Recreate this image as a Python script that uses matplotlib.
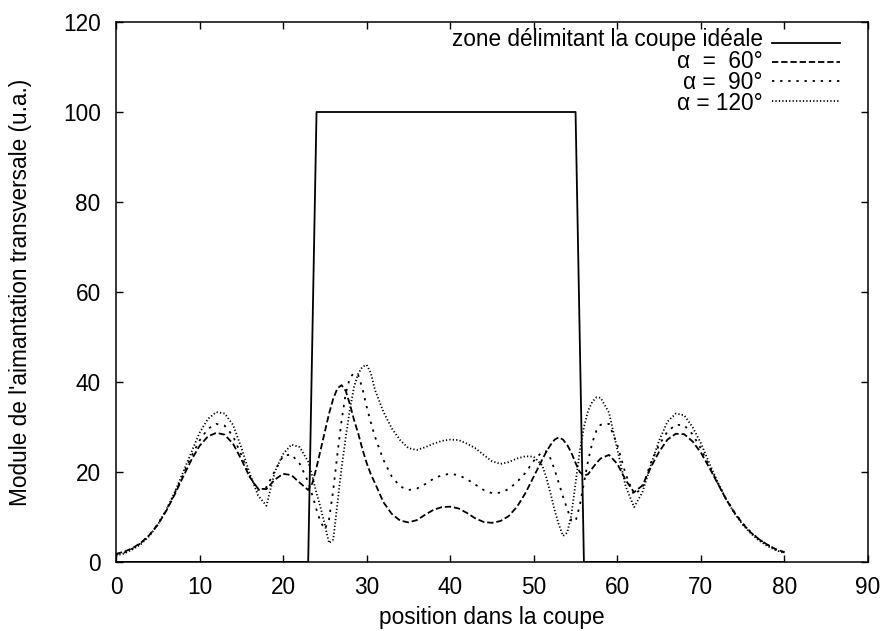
import matplotlib
matplotlib.use("Agg")
import matplotlib.pyplot as plt

plt.rcParams['font.family'] = ['Liberation Sans', 'DejaVu Sans']

# positions dans la coupe (shared by the three angles)
position = [0, 1, 2, 3, 4, 5, 6, 7, 8, 9, 10, 11, 12, 13, 14, 15, 16, 17, 18, 19, 20, 21, 22,
            23, 23.5, 24, 24.5, 25, 25.5, 26, 26.5, 27, 27.5, 28, 28.5, 29, 29.5, 30, 30.5, 31,
            32, 33, 34, 35, 36, 37, 38, 39, 40, 41, 42, 43, 44, 45, 46, 47, 48, 49, 50, 51,
            51.5, 52, 52.5, 53, 53.5, 54, 54.5, 55, 55.5, 56, 56.5, 57, 57.5, 58,
            59, 60, 61, 62, 63, 64, 65, 66, 67, 68, 69, 70, 71, 72, 73, 74, 75, 76, 77, 78, 79, 80]

alpha_60 = [1.8, 2.3, 3.1, 4.3, 6.0, 8.3, 11.3, 14.9, 18.8, 22.6, 25.8, 27.9, 28.7, 28.3, 26.3, 22.8, 18.9, 16.3, 16.2, 18.3, 19.6, 19.3, 17.6,
            16.0, 17.5, 21.0, 25.0, 29.0, 33.0, 36.3, 38.6, 39.3, 38.0, 35.0, 31.5, 28.5, 25.0, 22.0, 19.5, 17.5,
            13.3, 10.7, 9.2, 8.8, 9.3, 10.5, 11.6, 12.2, 12.3, 11.9, 10.9, 9.7, 8.9, 8.7, 9.1, 10.2, 12.3, 15.3, 19.0, 22.7,
            24.5, 26.0, 27.2, 27.7, 27.2, 26.0, 24.3, 22.0, 20.0, 19.2, 19.5, 20.8, 22.0, 23.0,
            23.8, 21.8, 18.2, 15.5, 17.0, 21.0, 24.5, 27.2, 28.5, 28.4, 26.8, 24.3, 21.0, 17.5, 14.0, 11.0, 8.5, 6.5, 5.0, 3.8, 2.8, 2.2]

alpha_90 = [1.6, 2.1, 3.0, 4.2, 6.0, 8.4, 11.5, 15.2, 19.3, 23.4, 27.0, 29.6, 30.7, 30.3, 28.0, 23.8, 19.0, 16.0, 16.6, 20.2, 23.6, 23.9, 21.8,
            17.8, 14.8, 11.6, 8.8, 7.3, 9.5, 16.0, 24.0, 31.5, 37.5, 41.0, 42.0, 41.5, 38.5, 34.5, 31.0, 27.8,
            22.7, 19.0, 16.8, 16.0, 16.3, 17.3, 18.5, 19.3, 19.6, 19.3, 18.4, 17.2, 16.0, 15.3, 15.4, 16.2, 17.8, 19.8, 22.5, 24.5,
            24.6, 23.0, 20.5, 17.5, 14.5, 11.8, 9.2, 9.0, 12.5, 17.5, 22.5, 26.5, 29.2, 30.5,
            30.7, 26.0, 19.5, 14.9, 16.5, 22.0, 26.0, 29.0, 30.5, 30.4, 28.4, 25.2, 21.3, 17.6, 14.1, 11.1, 8.6, 6.6, 5.0, 3.8, 2.8, 2.1]

alpha_120 = [1.4, 1.9, 2.8, 4.0, 5.8, 8.3, 11.5, 15.4, 19.8, 24.3, 28.7, 31.8, 33.3, 33.0, 30.5, 25.4, 19.7, 14.8, 12.5, 20.0, 24.0, 26.1, 25.5,
             22.3, 19.0, 15.3, 12.0, 8.2, 4.2, 5.0, 13.0, 21.0, 27.8, 34.0, 39.0, 41.9, 43.4, 43.8, 42.0, 38.2,
             33.4, 29.7, 27.1, 25.3, 24.9, 25.5, 26.3, 26.9, 27.2, 27.1, 26.3, 25.3, 23.8, 22.4, 21.8, 22.2, 23.0, 23.5, 23.4, 21.5,
             18.8, 15.3, 11.5, 8.3, 5.8, 6.5, 10.5, 17.5, 24.5, 30.0, 33.6, 35.6, 36.6, 36.5,
             33.2, 25.0, 16.8, 12.2, 15.5, 21.5, 27.0, 31.2, 33.0, 32.6, 30.0, 26.4, 22.0, 17.8, 14.0, 10.9, 8.3, 6.3, 4.7, 3.5, 2.6, 2.0]

# zone delimitant la coupe ideale
zone_x = [0, 23, 24, 55, 56, 80]
zone_y = [0, 0, 100, 100, 0, 0]

labels = ['zone délimitant la coupe idéale', 'α  =  60°', 'α =  90°', 'α = 120°']
styles = ['-', (0, (3.5, 1.6)), (0, (1.3, 3.2)), (0, (0.7, 1.2))]

fig = plt.figure(figsize=(8.85, 6.31), dpi=100)
ax = fig.add_axes([116 / 885, 69 / 631, 752 / 885, 540 / 631])

series = [(zone_x, zone_y), (position, alpha_60), (position, alpha_90), (position, alpha_120)]
for (xs, ys), ls in zip(series, styles):
    ax.plot(xs, ys, color='black', linestyle=ls, linewidth=1.3)

fs = 16.3
ax.set_xlim(0, 90)
ax.set_ylim(0, 120)
ax.set_xticks(range(0, 91, 10))
ax.set_yticks(range(0, 121, 20))
ax.tick_params(direction='in', top=True, right=True, length=5, width=1,
               labelsize=fs, pad=10)
ax.tick_params(axis='y', pad=11)
for sp in ax.spines.values():
    sp.set_linewidth(1.1)

ax.set_xlabel('position dans la coupe', fontsize=fs, labelpad=5)
ax.set_ylabel("Module de l'aimantation transversale (u.a.)", fontsize=fs, labelpad=22)

# key in gnuplot style: one right-aligned text block, samples on the right
rows = [0.962, 0.926, 0.890, 0.854]
ax.text(0.860, sum(rows) / len(rows), '\n'.join(labels), transform=ax.transAxes,
        ha='right', va='center', multialignment='right', fontsize=fs, linespacing=0.9)
for ls, yk in zip(styles, rows):
    ax.plot([0.872, 0.963], [yk, yk], transform=ax.transAxes, color='black',
            linestyle=ls, linewidth=1.3)

fig.savefig('out.png', dpi=100)
